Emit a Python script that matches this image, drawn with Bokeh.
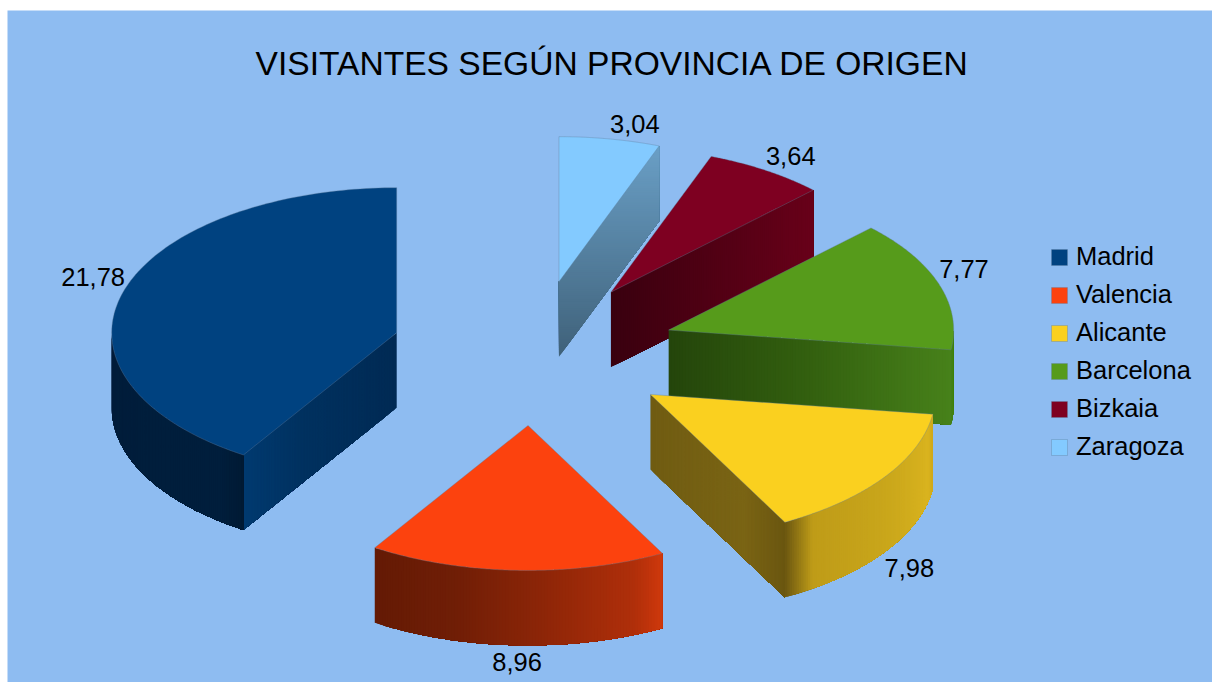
import math
from bokeh.plotting import figure
from bokeh.models import Range1d, Legend, LegendItem, ColumnDataSource
from bokeh.core.properties import value
from bokeh.embed import file_html
from bokeh.resources import INLINE

# ---- data -------------------------------------------------------------
TITLE = "VISITANTES SEGÚN PROVINCIA DE ORIGEN"
categories = ["Madrid", "Valencia", "Alicante", "Barcelona", "Bizkaia", "Zaragoza"]
visitors = [21.78, 8.96, 7.98, 7.77, 3.64, 3.04]
value_labels = ["21,78", "8,96", "7,98", "7,77", "3,64", "3,04"]

# ---- style ------------------------------------------------------------
BG = "#8EBCF1"
FONT = "Liberation Sans"
top_colors = ["#004280", "#FC420E", "#FAD01F", "#569B1B", "#7E0021", "#83CAFF"]
cut_stops = [
    [(0, "#002a54"), (0.6, "#00315f"), (1, "#003a70")],
    [(0, "#641a05"), (1, "#641a05")],
    [(0, "#705c12"), (0.7, "#7a6414"), (1, "#6a5610")],
    [(0, "#24450b"), (0.5, "#33600f"), (1, "#47811a")],
    [(0, "#39000f"), (1, "#680019")],
    [(0, "#3f6179"), (1, "#6a9fc6")],
]
wall_stops = [
    [(0, "#001d3b"), (0.9, "#001e3c"), (1, "#001a34")],
    [(0, "#641a05"), (0.3, "#701e06"), (0.6, "#8f2608"), (0.9, "#b02f0a"), (1, "#d0390c")],
    [(0, "#6a5610"), (0.12, "#bf9c18"), (0.5, "#c9a61b"), (0.9, "#dab41f"), (1, "#cfa81b")],
    [(0, "#47811a"), (1, "#4a8717")],
    [(0, "#680019"), (1, "#680019")],
    [(0, "#6a9fc6"), (1, "#6a9fc6")],
]
vertical_cut = [False, False, False, False, False, True]
label_offsets = [(-30, -15), (0, 17), (25, 16), (25, -15), (25, -14), (25, -15)]
draw_order = [5, 4, 3, 2, 1, 0]

# ---- pie projection (page pixels) ---------------------------------------
CX, CY, RX, RY, EXPLODE, DEPTH = 533, 352.5, 285, 145, 0.5, 75
STEPS = 100


def hex2rgb(c):
    return tuple(int(c[i:i + 2], 16) for i in (1, 3, 5))


def ramp(stops, t):
    for (t0, c0), (t1, c1) in zip(stops, stops[1:]):
        if t <= t1:
            f = 0 if t1 == t0 else (t - t0) / (t1 - t0)
            a, b = hex2rgb(c0), hex2rgb(c1)
            return "#%02x%02x%02x" % tuple(round(a[i] + (b[i] - a[i]) * f) for i in range(3))
    return stops[-1][1]


def pt(ax, ay, deg, r=1.0):
    a = math.radians(deg)
    return ax + r * RX * math.cos(a), ay - r * RY * math.sin(a)


def add_strips(p, pts, stops):
    # painter's gradient: every band runs on to the far end of the face, so no seams show
    xs, ys, cols = [], [], []
    n = len(pts) - 1
    for i in range(n):
        rest = pts[i:]
        xs.append([q[0] for q in rest] + [q[0] for q in reversed(rest)])
        ys.append([q[1] for q in rest] + [q[1] + DEPTH for q in reversed(rest)])
        cols.append(ramp(stops, (i + 0.5) / n))
    src = ColumnDataSource(dict(xs=xs, ys=ys, c=cols))
    p.patches("xs", "ys", source=src, fill_color="c", line_color=None)


def clip_above(poly, level):
    # the part of a polygon that lies above the horizontal line y = level on the page
    out = []
    for (x0, y0), (x1, y1) in zip(poly, poly[1:] + poly[:1]):
        if y0 <= level:
            out.append((x0, y0))
        if (y0 <= level) != (y1 <= level):
            f = (level - y0) / (y1 - y0)
            out.append((x0 + (x1 - x0) * f, level))
    return out


def add_vertical_face(p, a, e, stops):
    # top-to-bottom gradient: paint the whole face, then ever smaller upper parts of it
    poly = [a, e, (e[0], e[1] + DEPTH), (a[0], a[1] + DEPTH)]
    y_min, y_max = min(q[1] for q in poly), max(q[1] for q in poly)
    xs, ys, cols = [], [], []
    for k in range(STEPS):
        level = y_max - (y_max - y_min) * k / STEPS
        part = clip_above(poly, level)
        xs.append([q[0] for q in part])
        ys.append([q[1] for q in part])
        cols.append(ramp(stops, (k + 0.5) / STEPS))
    src = ColumnDataSource(dict(xs=xs, ys=ys, c=cols))
    p.patches("xs", "ys", source=src, fill_color="c", line_color=None)


def add_cut(p, i, ax, ay, e):
    if vertical_cut[i]:
        add_vertical_face(p, (ax, ay), e, cut_stops[i])
    else:
        add_strips(p, [(ax + (e[0] - ax) * k / STEPS, ay + (e[1] - ay) * k / STEPS)
                       for k in range(STEPS + 1)], cut_stops[i])


p = figure(
    frame_width=1205, frame_height=672, min_border=0, min_border_left=7, min_border_top=10,
    x_range=Range1d(7, 1212), y_range=Range1d(682, 10),
    x_axis_type=None, y_axis_type=None, toolbar_location=None,
    output_backend="svg", background_fill_color=BG, border_fill_color="#ffffff",
    outline_line_color=None,
)
p.grid.visible = False

p.text([612], [63], text=[TITLE], text_font=value(FONT), text_font_size="33.6px",
       text_align="center", text_baseline="middle", text_color="#000000")

total = sum(visitors)
spans, ang = [], 90.0
for v in visitors:
    spans.append((ang, ang + v / total * 360))
    ang += v / total * 360

tops = {}
for i in draw_order:
    a0, a1 = spans[i]
    mid = (a0 + a1) / 2
    ax, ay = pt(CX, CY, mid, EXPLODE)
    # radial cut faces that look towards the viewer
    if math.cos(math.radians(a0)) > 1e-6:
        add_cut(p, i, ax, ay, pt(ax, ay, a0))
    if math.cos(math.radians(a1 % 360)) < -1e-6:
        add_cut(p, i, ax, ay, pt(ax, ay, a1))
    # outer wall: only the front half of the rim shows
    for lo, hi in ((180, 360), (540, 720)):
        w0, w1 = max(a0, lo), min(a1, hi)
        if w1 > w0:
            add_strips(p, [pt(ax, ay, w0 + (w1 - w0) * k / STEPS) for k in range(STEPS + 1)], wall_stops[i])
    # top face
    arc = [pt(ax, ay, a0 + (a1 - a0) * k / 120) for k in range(121)]
    tops[i] = p.patch(
        [ax] + [q[0] for q in arc], [ay] + [q[1] for q in arc],
        fill_color=top_colors[i], line_color="#5f7f9c", line_alpha=0.45, line_width=0.8,
    )

# value labels
lx, ly = [], []
for i in range(len(visitors)):
    a0, a1 = spans[i]
    mid = (a0 + a1) / 2
    ax, ay = pt(CX, CY, mid, EXPLODE)
    ox, oy = pt(ax, ay, mid)
    if math.sin(math.radians(mid)) < 0:
        oy += DEPTH
    lx.append(ox + label_offsets[i][0])
    ly.append(oy + label_offsets[i][1])
p.text(lx, ly, text=value_labels, text_font=value(FONT), text_font_size="25.5px",
       text_align="center", text_baseline="middle", text_color="#000000")

legend = Legend(
    items=[LegendItem(label=c, renderers=[tops[i]]) for i, c in enumerate(categories)],
    location=(1042, 221), background_fill_alpha=0, border_line_color=None,
    label_text_font=FONT, label_text_font_size="25.5px", label_text_color="#000000",
    glyph_width=20, glyph_height=20, label_standoff=7, spacing=9,
    padding=0, margin=0, label_height=20,
)
p.add_layout(legend)

open("out.html", "w").write(file_html(p, INLINE))
